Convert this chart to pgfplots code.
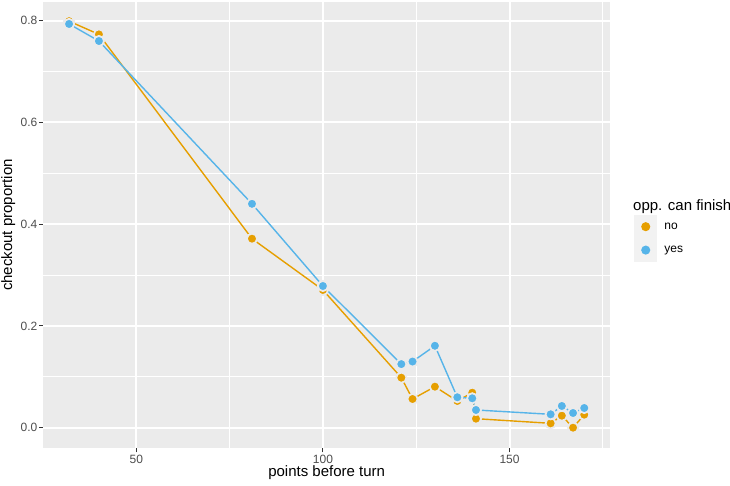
\documentclass[border=0pt]{standalone}
\usepackage{pgfplots}
\pgfplotsset{compat=1.18}
\usepackage{fontspec}
\setmainfont{Liberation Sans}
\definecolor{panelgrey}{HTML}{EBEBEB}
\definecolor{keygrey}{HTML}{F2F2F2}
\definecolor{ticktext}{HTML}{4D4D4D}
\definecolor{tickmark}{HTML}{333333}
\definecolor{cno}{HTML}{E69F00}
\definecolor{cyes}{HTML}{56B4E9}
\begin{document}
\begin{tikzpicture}[x=1pt,y=1pt]
\path[use as bounding box] (0,0) rectangle (730,486);
\begin{axis}[
  at={(43.3pt,37.7pt)}, anchor=south west,
  scale only axis, width=566.7pt, height=446.6pt,
  xmin=25.1, xmax=176.9, ymin=-0.0405, ymax=0.8373,
  axis background/.style={fill=panelgrey},
  axis line style={draw=none},
  xtick={50,100,150}, ytick={0,0.2,0.4,0.6,0.8},
  minor xtick={75,125,175}, minor ytick={0.1,0.3,0.5,0.7},
  grid=both,
  major grid style={white, line width=1.9pt},
  minor grid style={white, line width=0.95pt},
  tick align=outside, major tick length=4pt, minor tick length=0pt,
  tick style={tickmark, line width=1pt},
  xtick pos=bottom, ytick pos=left,
  /pgf/number format/assume math mode=true,
  yticklabel style={/pgf/number format/fixed, /pgf/number format/fixed zerofill, /pgf/number format/precision=1},
  ticklabel style={font=\fontsize{12}{14}\selectfont, text=ticktext, inner sep=0pt},
  xticklabel style={anchor=north, yshift=-3pt},
  yticklabel style={anchor=east, xshift=-1.8pt},
  xlabel={points before turn}, ylabel={checkout proportion},
  label style={font=\fontsize{15}{18}\selectfont, inner sep=0pt},
  xlabel style={at={(axis description cs:0.5,-0.0553)}, anchor=center},
  ylabel style={at={(axis description cs:-0.062,0.5)}, anchor=center},
  legend style={at={(axis description cs:1.0424,0.5224)}, anchor=north west,
    draw=none, fill=none, inner sep=0pt, outer sep=0pt, row sep=0pt, column sep=7pt,
    font=\fontsize{12}{14}\selectfont,
    nodes={inner sep=0pt, outer sep=0pt}},
  legend cell align=left,
]
\addplot[cno, line width=1.4pt, mark=*, mark size=5.1pt,
  mark options={fill=cno, draw=panelgrey, line width=1.8pt},
  legend image code/.code={\fill[keygrey] (0pt,-11pt) rectangle (22pt,11pt); \fill[cno] (11pt,0pt) circle (3.8pt);}]
coordinates {
(32,0.799) (40,0.773) (81,0.3715) (100,0.2707) (121,0.0983) (124,0.0564) (130,0.0806)
(136,0.0525) (140,0.0688) (141,0.0177) (161,0.0086) (164,0.0236) (167,0.0000) (170,0.0256)
};
\addlegendentry{no}
\addplot[cyes, line width=1.4pt, mark=*, mark size=5.1pt,
  mark options={fill=cyes, draw=panelgrey, line width=1.8pt},
  legend image code/.code={\fill[keygrey] (0pt,-11pt) rectangle (22pt,11pt); \fill[cyes] (11pt,0pt) circle (3.8pt);}]
coordinates {
(32,0.7935) (40,0.760) (81,0.440) (100,0.2785) (121,0.125) (124,0.130) (130,0.161)
(136,0.0598) (140,0.0578) (141,0.0348) (161,0.0263) (164,0.0427) (167,0.0289) (170,0.0387)
};
\addlegendentry{yes}
\end{axis}
\node[anchor=west, inner sep=0pt, font=\fontsize{15}{18}\selectfont] at (633,279) {opp. can finish};
\end{tikzpicture}
\end{document}
